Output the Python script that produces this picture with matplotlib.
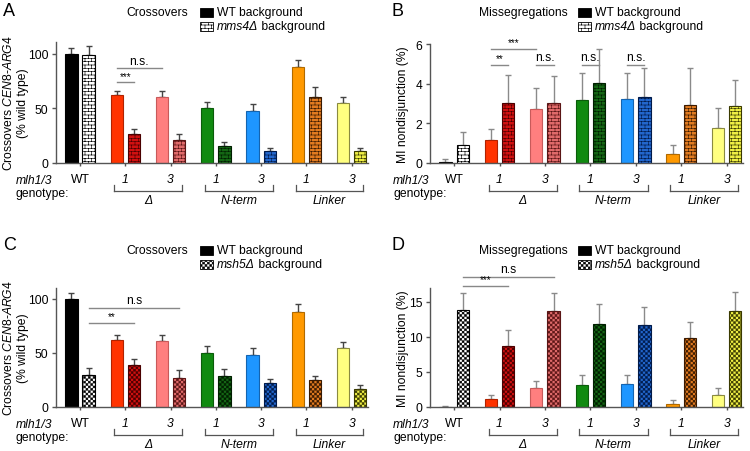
import numpy as np
import matplotlib
matplotlib.use('Agg')
import matplotlib.pyplot as plt
import matplotlib.hatch as mhatch
from matplotlib.path import Path
from matplotlib.patches import Rectangle
from matplotlib.transforms import blended_transform_factory, ScaledTranslation

# ---------------- data ----------------
genotypes = ['WT', '1', '3', '1', '3', '1', '3']
groups = ['Δ', 'N-term', 'Linker']
group_members = [(1, 2), (3, 4), (5, 6)]

crossover_wt = [100, 62, 61, 50, 48, 88, 55]
crossover_wt_err = [5.5, 4.5, 5.2, 6.0, 6.3, 6.8, 5.4]
crossover_mms4 = [99, 27, 21, 16, 11, 61, 11]
crossover_mms4_err = [8.0, 4.5, 5.2, 3.6, 2.8, 8.3, 2.8]
crossover_msh5 = [30, 39, 27, 29, 22, 25, 17]
crossover_msh5_err = [6.3, 5.0, 7.0, 6.0, 4.0, 4.0, 3.3]

misseg_wt = [0.07, 1.14, 2.73, 3.20, 3.22, 0.44, 1.75]
misseg_wt_err = [0.14, 0.56, 1.03, 1.32, 1.31, 0.49, 1.00]
misseg_mms4 = [0.90, 3.04, 3.02, 4.05, 3.35, 2.90, 2.85]
misseg_mms4_err = [0.68, 1.39, 1.36, 1.70, 1.45, 1.88, 1.32]
misseg_msh5 = [13.8, 8.7, 13.7, 11.85, 11.7, 9.85, 13.7]
misseg_msh5_err = [2.55, 2.25, 2.65, 2.80, 2.55, 2.35, 2.80]

# significance: (label, group_a, side_a, group_b, side_b, y)  side -1 = WT bg, +1 = mutant bg
sig_A = [('***', 1, -1, 1, 1, 74), ('n.s.', 1, -1, 2, -1, 87)]
sig_B = [('***', 1, -1, 2, -1, 5.75), ('**', 1, -1, 1, 1, 4.95), ('n.s.', 2, -1, 2, 1, 4.95),
         ('n.s.', 3, -1, 3, 1, 4.95), ('n.s.', 4, -1, 4, 1, 4.95)]
sig_C = [('**', 0, 1, 1, 1, 77.8), ('n.s', 0, 1, 2, 1, 91.7)]
sig_D = [('***', 0, 1, 1, 1, 17.3), ('n.s', 0, 1, 2, 1, 18.6)]

wt_fill = ['#000000', '#ff3300', '#ff7f7f', '#108a10', '#1e96ff', '#ff9900', '#ffff80']
wt_edge = ['#000000', '#b02200', '#c85a5a', '#0a5c0a', '#1464b0', '#b06a00', '#8a8a40']
mut_fill = ['#ffffff', '#d01010', '#e06a6a', '#146614', '#2266cc', '#e07a20', '#eeee44']
mut_edge = ['#000000', '#4a0000', '#5a1515', '#001f00', '#001a4a', '#3a1a00', '#3a3a00']

# ---------------- custom hatch patterns (brick, checker) ----------------
class BrickHatch(mhatch.HatchPatternBase):
    def __init__(self, hatch, density):
        self.rows = int(hatch.count('O') * density)
        self.cols = max(self.rows // 2, 1)
        self.num_vertices = (2 * self.rows + 2 * self.cols * (self.rows + 1)) if self.rows else 0

    def set_vertices_and_codes(self, vertices, codes):
        n, m = self.rows, self.cols
        v = []
        for i in range(n):
            y = (i + 0.5) / n
            v += [(0.0, y), (1.0, y)]
        for i in range(-1, n):
            y0, y1 = (i + 0.5) / n, (i + 1.5) / n
            off = (0.5 / m) if (i % 2) else 0.0
            for j in range(m):
                xx = j / m + off + 0.25 / m
                v += [(xx, y0), (xx, y1)]
        vertices[:] = np.array(v)
        codes[0::2] = Path.MOVETO
        codes[1::2] = Path.LINETO


class CheckerHatch(mhatch.HatchPatternBase):
    def __init__(self, hatch, density):
        n = int(hatch.count('o') * density)
        if n % 2:
            n += 1
        self.n = n
        self.num_vertices = (n * n // 2) * 5 if n else 0

    def set_vertices_and_codes(self, vertices, codes):
        n = self.n
        s = 1.0 / n
        ins = s * 0.12
        v = []
        for i in range(n):
            for j in range(n):
                if (i + j) % 2 == 0:
                    x0, y0 = j * s + ins, i * s + ins
                    x1, y1 = (j + 1) * s - ins, (i + 1) * s - ins
                    v += [(x0, y0), (x1, y0), (x1, y1), (x0, y1), (x0, y0)]
        vertices[:] = np.array(v)
        codes[:] = np.tile([Path.MOVETO, Path.LINETO, Path.LINETO, Path.LINETO, Path.CLOSEPOLY], n * n // 2)


for k, cls in enumerate(mhatch._hatch_types):
    if cls.__name__ == 'LargeCircles':
        mhatch._hatch_types[k] = BrickHatch
    elif cls.__name__ == 'SmallCircles':
        mhatch._hatch_types[k] = CheckerHatch

BRICK = 'OOOOO'
CHECK = 'ooooooo'

# ---------------- style ----------------
plt.rcParams['font.family'] = ['Liberation Sans', 'DejaVu Sans']
plt.rcParams['mathtext.fontset'] = 'custom'
plt.rcParams['mathtext.rm'] = 'Liberation Sans'
plt.rcParams['mathtext.it'] = 'Liberation Sans:italic'
plt.rcParams['mathtext.sf'] = 'Liberation Sans'
plt.rcParams['hatch.linewidth'] = 0.45

W, H, DPI = 750, 452, 100
FS = 8.7
fig = plt.figure(figsize=(W / DPI, H / DPI), dpi=DPI)

OFF = 0.19
BW = 0.27
x = np.arange(len(genotypes))


def fx(px):
    return px / W


def fy(py):
    return 1 - py / H


panels = [
    dict(rect=(56, 43, 368, 164), ylim=111, yticks=[0, 50, 100], letter='A', letter_xy=(3, 12),
         ylabel='Crossovers $\\mathit{CEN8}$-$\\mathit{ARG4}$\n(% wild type)', ylabel_x=15.5,
         title='Crossovers', title_right=188, leg_x=200, leg_y=(13, 27),
         mut_name='mms4Δ', hatch=BRICK,
         wt=crossover_wt, wt_err=crossover_wt_err, mut=crossover_mms4, mut_err=crossover_mms4_err,
         ecolor='#444444', sig=sig_A, text_x=16),
    dict(rect=(430, 45, 743, 164), ylim=6, yticks=[0, 2, 4, 6], letter='B', letter_xy=(392, 12),
         ylabel='MI nondisjunction (%)', ylabel_x=403,
         title='Missegregations', title_right=568, leg_x=578, leg_y=(13, 27),
         mut_name='mms4Δ', hatch=BRICK,
         wt=misseg_wt, wt_err=misseg_wt_err, mut=misseg_mms4, mut_err=misseg_mms4_err,
         ecolor='#8a8a8a', sig=sig_B, text_x=393),
    dict(rect=(56, 289, 368, 408), ylim=110, yticks=[0, 50, 100], letter='C', letter_xy=(3, 246),
         ylabel='Crossovers $\\mathit{CEN8}$-$\\mathit{ARG4}$\n(% wild type)', ylabel_x=15.5,
         title='Crossovers', title_right=188, leg_x=200, leg_y=(251, 265),
         mut_name='msh5Δ', hatch=CHECK,
         wt=crossover_wt, wt_err=crossover_wt_err, mut=crossover_msh5, mut_err=crossover_msh5_err,
         ecolor='#444444', sig=sig_C, text_x=16),
    dict(rect=(430, 289, 743, 408), ylim=17, yticks=[0, 5, 10, 15], letter='D', letter_xy=(392, 246),
         ylabel='MI nondisjunction (%)', ylabel_x=403,
         title='Missegregations', title_right=568, leg_x=578, leg_y=(251, 265),
         mut_name='msh5Δ', hatch=CHECK,
         wt=misseg_wt, wt_err=misseg_wt_err, mut=misseg_msh5, mut_err=misseg_msh5_err,
         ecolor='#8a8a8a', sig=sig_D, text_x=393),
]

for p in panels:
    l, t, r, b = p['rect']
    ax = fig.add_axes([fx(l), fy(b), (r - l) / W, (b - t) / H])
    ax.set_xlim(-0.53, 6.36)
    ax.set_ylim(0, p['ylim'])
    for s in ('top', 'right'):
        ax.spines[s].set_visible(False)
    for s in ('left', 'bottom'):
        ax.spines[s].set_color('#555555')
        ax.spines[s].set_linewidth(1.0)

    ax.bar(x - OFF, p['wt'], BW, color=wt_fill, edgecolor=wt_edge, linewidth=0.8, zorder=2)
    ax.bar(x + OFF, p['mut'], BW, color=mut_fill, edgecolor=mut_edge, linewidth=0.8,
           hatch=p['hatch'], zorder=2)
    zeros = np.zeros(len(x))
    ax.errorbar(x - OFF, p['wt'], yerr=[zeros, p['wt_err']], fmt='none', ecolor=p['ecolor'],
                elinewidth=1, capsize=1.9, capthick=1, zorder=1)
    ax.errorbar(x + OFF, p['mut'], yerr=[zeros, p['mut_err']], fmt='none', ecolor=p['ecolor'],
                elinewidth=1, capsize=1.9, capthick=1, zorder=1)

    ax.set_yticks(p['yticks'])
    ax.tick_params(axis='y', length=3, width=1, color='#555555', pad=2.5, labelsize=FS)
    ax.set_xticks(x)
    ax.set_xticklabels(genotypes)
    ax.tick_params(axis='x', length=2.5, width=1, color='#555555', pad=5, labelsize=FS)
    for k, lab in enumerate(ax.get_xticklabels()):
        if k > 0:
            lab.set_style('italic')

    # group brackets
    for (i1, i2), name in zip(group_members, groups):
        xa, xb = i1 - 0.24, i2 + 0.26
        tr_b = blended_transform_factory(ax.transData, ax.transAxes) + \
            ScaledTranslation(0, -28 / DPI, fig.dpi_scale_trans)
        ax.plot([xa, xb], [0, 0], color='#555555', lw=0.9, transform=tr_b, clip_on=False)
        for xe in (xa, xb):
            ax.plot([xe, xe], [0, 6 / (b - t)], color='#555555', lw=0.9,
                    transform=tr_b, clip_on=False)
        tr_l = blended_transform_factory(ax.transData, ax.transAxes) + \
            ScaledTranslation(0, -37 / DPI, fig.dpi_scale_trans)
        ax.text((xa + xb) / 2, 0, name, transform=tr_l, ha='center', va='center',
                style='italic', fontsize=FS, clip_on=False)

    # significance
    for lab, ga, sa, gb, sb, yv in p['sig']:
        xa = ga + sa * OFF
        xb = gb + sb * OFF
        ax.plot([xa, xb], [yv, yv], color='#888888', lw=1, clip_on=False)
        fs = 7 if '*' in lab else FS
        ax.annotate(lab, xy=((xa + xb) / 2, yv), xytext=(0, 1), textcoords='offset points',
                    ha='center', va='bottom', fontsize=fs, annotation_clip=False)

    # left texts
    fig.text(fx(p['text_x']), fy(b + 17), 'mlh1/3', style='italic', fontsize=FS, ha='left', va='center')
    fig.text(fx(p['text_x']), fy(b + 30), 'genotype:', fontsize=FS, ha='left', va='center')

    # y label
    fig.text(fx(p['ylabel_x']), fy((t + b) / 2), p['ylabel'], rotation=90, ha='center', va='center',
             fontsize=FS, linespacing=1.25)

    # panel letter
    fig.text(fx(p['letter_xy'][0]), fy(p['letter_xy'][1]), p['letter'], fontsize=13,
             ha='left', va='center')

    # title / legend
    y1, y2 = p['leg_y']
    fig.text(fx(p['title_right']), fy(y1), p['title'], fontsize=FS, ha='right', va='center')
    lx = p['leg_x']
    fig.add_artist(Rectangle((fx(lx), fy(y1 + 4.5)), 13 / W, 9 / H, transform=fig.transFigure,
                             facecolor='#000000', edgecolor='#000000', lw=0.6))
    fig.add_artist(Rectangle((fx(lx), fy(y2 + 4.5)), 13 / W, 9 / H, transform=fig.transFigure,
                             facecolor='#ffffff', edgecolor='#000000', lw=0.6, hatch=p['hatch']))
    fig.text(fx(lx + 17), fy(y1), 'WT background', fontsize=FS, ha='left', va='center')
    t1 = fig.text(fx(lx + 17), fy(y2), p['mut_name'], fontsize=FS, style='italic',
                  ha='left', va='center')
    fig.texts.append(None) if False else None
    ann = ax.annotate(' background', xy=(1, 0), xycoords=t1, ha='left', va='bottom',
                      fontsize=FS, annotation_clip=False)

fig.savefig('out.png', dpi=DPI)
